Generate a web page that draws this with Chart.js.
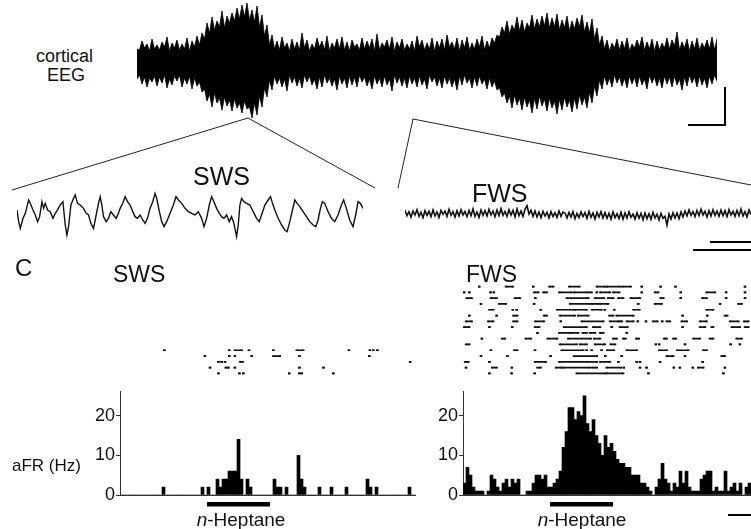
<!DOCTYPE html>
<html>
<head>
<meta charset="utf-8">
<script src="https://cdn.jsdelivr.net/npm/chart.js@4.4.1/dist/chart.umd.min.js"></script>
<style>
html, body { margin: 0; padding: 0; background: #fff; overflow: hidden; }
#fig { position: relative; width: 751px; height: 529px; overflow: hidden;
       font-family: "Liberation Sans", Arial, sans-serif; color: #111; }
#fig canvas, #fig .lbl, #fig svg { position: absolute; }
.lbl { white-space: nowrap; line-height: 1; }
</style>
</head>
<body>
<div id="fig">
  <canvas id="eeg" width="600" height="126" style="left:130px;top:0px"></canvas>
  <canvas id="swsTrace" width="380" height="80" style="left:0px;top:175px"></canvas>
  <canvas id="fwsTrace" width="360" height="80" style="left:395px;top:175px"></canvas>
  <canvas id="swsRaster" width="330" height="104" style="left:100px;top:278px"></canvas>
  <canvas id="fwsRaster" width="330" height="104" style="left:443px;top:278px"></canvas>
  <canvas id="swsHist" width="440" height="149" style="left:0px;top:380px"></canvas>
  <canvas id="fwsHist" width="440" height="149" style="left:343px;top:380px"></canvas>

  <div class="lbl" style="left:36px;top:47px;font-size:18px">cortical</div>
  <div class="lbl" style="left:47px;top:66px;font-size:18px">EEG</div>
  <div class="lbl" style="left:193px;top:164px;font-size:25px">SWS</div>
  <div class="lbl" style="left:472px;top:181px;font-size:25px">FWS</div>
  <div class="lbl" style="left:15px;top:256px;font-size:24px">C</div>
  <div class="lbl" style="left:113px;top:263px;font-size:23px">SWS</div>
  <div class="lbl" style="left:466px;top:263px;font-size:23px">FWS</div>
  <div class="lbl" style="left:12px;top:457px;font-size:17px">aFR (Hz)</div>
  <div class="lbl" style="left:241px;top:510px;font-size:19px;transform:translateX(-50%)"><i>n</i>-Heptane</div>
  <div class="lbl" style="left:582px;top:510px;font-size:19px;transform:translateX(-50%)"><i>n</i>-Heptane</div>

  <svg width="751" height="529" style="left:0;top:0;pointer-events:none">
    <g stroke="#222" stroke-width="1" fill="none">
      <line x1="248" y1="118" x2="12" y2="190"/>
      <line x1="248" y1="118" x2="375" y2="188"/>
      <line x1="413" y1="119" x2="398" y2="188"/>
      <line x1="413" y1="119" x2="751" y2="185"/>
    </g>
    <g stroke="#000" stroke-width="2" fill="none">
      <polyline points="725,87 725,125 688,125"/>
      <line x1="710" y1="242" x2="751" y2="242"/>
      <line x1="693" y1="250" x2="751" y2="250"/>
      <line x1="728" y1="515" x2="751" y2="515"/>
    </g>
  </svg>
</div>

<script>
// cortical EEG overview: spike tips of the trace above / below baseline
const eegUpper = [
  14, 22, 19, 24, 18, 21, 26, 20, 23, 19, 25, 22, 27, 30,
  40, 46, 42, 52, 47, 50, 55, 58, 60, 53, 57, 48, 38,
  28, 22, 26, 20, 24, 21, 30, 23, 19, 25, 22, 27, 20, 24, 26, 21, 23, 19, 25, 22,
  24, 29, 20, 23, 26, 21, 24, 19, 22, 27, 23, 20, 25, 22, 24, 28, 21, 25, 23, 26,
  20, 24, 27, 22, 25, 28,
  36, 42, 38, 46, 43, 40, 48, 44, 47, 50, 45, 49, 43, 47, 42, 45, 48, 41, 44, 35,
  27, 23, 20, 24, 22, 25, 19, 23, 26, 21, 24, 22, 20, 25, 23, 31, 21, 24, 22, 25,
  20, 23, 26, 24
];
const eegLower = [
  16, 21, 24, 19, 23, 20, 25, 22, 18, 24, 21, 26, 23, 29,
  38, 44, 40, 47, 43, 48, 45, 50, 46, 55, 52, 44, 34,
  27, 21, 24, 28, 20, 23, 25, 19, 22, 26, 24, 20, 23, 27, 21, 25, 22, 24, 19, 23,
  26, 21, 24, 22, 28, 20, 23, 25, 21, 24, 22, 26, 19, 23, 25, 21, 24, 27, 22, 20,
  25, 23, 21, 26, 24, 27,
  34, 40, 45, 42, 47, 44, 50, 46, 43, 48, 45, 51, 47, 44, 49, 46, 42, 45, 40, 33,
  26, 22, 24, 20, 23, 25, 21, 24, 22, 26, 20, 23, 25, 21, 24, 22, 27, 23, 20, 24,
  22, 25, 21, 18
];
// edge of the solid core of the band, between neighbouring spike tips
const eegUpperCore = [
  13, 15, 12, 14, 13, 16, 12, 15, 13, 14, 12, 16, 18,
  24, 30, 33, 36, 35, 40, 42, 44, 46, 43, 41, 36, 27,
  18, 14, 13, 15, 12, 14, 13, 15, 12, 14, 16, 13, 12, 15, 14, 13, 12, 16, 13, 14,
  15, 12, 13, 16, 14, 12, 15, 13, 14, 12, 16, 13, 14, 12, 15, 13, 16, 14, 12, 15,
  13, 14, 16, 13, 15, 20,
  26, 30, 29, 33, 32, 31, 35, 34, 36, 37, 35, 36, 33, 35, 32, 34, 36, 31, 30, 24,
  18, 14, 12, 15, 13, 14, 12, 15, 16, 13, 14, 12, 13, 15, 14, 17, 13, 15, 12, 14,
  13, 15, 14, 13
];
const eegLowerCore = [
  12, 14, 15, 13, 14, 12, 16, 13, 12, 15, 13, 15, 19,
  26, 31, 30, 35, 34, 37, 36, 40, 38, 44, 40, 33, 25,
  17, 13, 15, 16, 12, 14, 15, 12, 13, 16, 14, 12, 15, 16, 13, 15, 13, 14, 12, 14,
  16, 13, 15, 13, 16, 12, 14, 15, 13, 15, 13, 16, 12, 14, 15, 13, 15, 16, 13, 12,
  15, 14, 13, 16, 15, 18,
  25, 30, 33, 32, 35, 34, 37, 35, 33, 36, 35, 38, 36, 34, 37, 35, 32, 34, 29, 23,
  17, 13, 15, 12, 14, 15, 13, 14, 13, 16, 12, 14, 15, 13, 14, 13, 16, 14, 12, 14,
  13, 15, 13, 12
];

// SWS expanded trace (time units, voltage units)
const swsTraceT = [0,5,10,18,25,35,42,48,55,62,68,75,80,85,92,100,108,115,122,130,138,145,150,155,162,170,175,182,190,200,
  208,215,222,230,238,245,250,255,260,268,275,282,290,298,305,310,318,325,332,340,348,355,362,370,378,385,392,400,408,415,
  420,428,435,442,450,460,470,478,485,495,505,515,525,535,545,555,562,570,578,585,592,600,608,615,622,630,638,645,652,660,
  665,670,675,682,690,700,710,720,728,735,745,755,762,768,775,785,795,805,812,820,828,835,842,850,860,870,880,890,898,905,
  912,918,925,935,945,955,965,975,982,990,1000,1010,1018,1025,1032,1040];
const swsTraceV = [15,-20,-40,-10,5,45,30,15,0,-20,-5,40,20,35,15,10,-10,5,15,30,40,-30,-60,-35,30,50,60,35,30,20,
  5,0,-25,-40,0,35,55,30,-5,-20,-10,10,0,-10,5,20,35,55,40,30,10,-5,-10,0,-15,-25,-10,20,40,65,
  50,10,-20,-35,-20,5,30,55,45,35,20,10,5,0,10,-10,-35,-10,30,55,40,20,5,-5,-10,0,-20,-5,-25,-65,
  -30,30,50,40,35,30,10,-10,-20,0,30,45,55,35,15,-10,-30,-45,-50,-20,15,45,35,25,10,-5,-20,-30,-35,-15,
  20,40,35,10,-10,-20,0,30,45,20,-15,-35,0,40,35,20];

// FWS expanded trace, one sample every fwsStep time units
const fwsStep = 6;
const fwsTraceV = [
  14,-2,10,-6,12,0,16,-4,8,-8,13,-1,11,-5,15,-3,9,-7,14,2,
  12,-4,17,-1,10,-6,13,-3,16,0,11,-5,14,-2,18,-4,9,-7,15,-1,
  13,-3,17,0,12,-5,15,-2,19,-1,11,-4,16,0,14,-6,18,-2,12,-4,
  17,28,3,14,-4,12,-6,9,-8,11,-3,8,-9,10,-5,7,-7,12,-4,9,
  6,-9,8,-6,10,-11,5,-8,9,-5,7,-10,11,-7,6,-12,8,-6,10,-9,
  7,-10,5,-12,9,-8,4,-11,8,-13,6,-9,10,-7,3,-12,7,-10,5,-14,
  6,-11,4,-13,8,-9,2,-15,5,-10,-4,-30,3,-12,7,-9,6,-11,9,-6,
  12,-3,15,-1,10,-5,14,-2,17,0,11,-6,13,-3,16,-1,12,-4,15,-2,
  13,-5,16,0,11,-4,14,-2,18,-3,10,-6,15,1
];

// Raster: spike times (s) per trial row; [start, end] = run of densely packed spikes
const swsRaster = [
  [], [], [], [], [], [], [], [], [], [], [],
  [1.48, 3.64, [3.83, 4.06], 4.30, 5.11, [5.89, 6.11], 7.63, 8.33, 8.44, 8.58],
  [2.83, 3.64, 3.83, 4.39, [5.11, 5.33], 5.98, 8.31],
  [3.28, 3.39, 3.50, [4.00, 4.09], 9.67],
  [3.00, 3.53, 3.61, 3.83, 5.98, 6.78],
  [3.28, 3.98, 4.11, 5.64, 5.98, 6.06, 7.11]
];
const fwsRaster = [
  [0.54, [1.43, 1.66], 2.34, [2.88, 3.01], [3.54, 3.88], [4.46, 4.73], [4.79, 5.23], [5.31, 5.59], 5.96, 6.59, 7.08, 9.40],
  [0.04, 0.21, 0.92, 1.03, [2.37, 2.51], [2.68, 2.79], [3.21, 3.62], [3.70, 4.12], [4.18, 4.29], 4.46, [4.57, 4.90], [5.01, 5.21], 5.96, [6.40, 6.51], 7.26, [8.12, 8.40], 8.77, 9.40],
  [[0.12, 0.29], [0.93, 1.12], [1.73, 1.90], 2.41, [3.46, 4.18], [4.40, 4.70], [4.84, 5.01], [5.18, 5.34], [5.59, 5.90], [6.59, 6.68], 7.26, [7.98, 8.12], 8.77, 9.40],
  [0.60, [1.21, 1.43], 2.37, [3.57, 4.23], [4.29, 4.51], [4.57, 4.84], 5.84, [6.40, 6.62], 8.57, [9.18, 9.29]],
  [[0.88, 1.01], 1.66, 1.79, 2.59, [3.14, 3.68], [3.73, 4.12], [4.30, 4.62], 4.73, 5.04, [5.68, 5.88], [8.12, 8.34]],
  [0.21, 1.12, [1.68, 1.81], [2.70, 2.79], [3.23, 3.73], [3.84, 4.18], [4.88, 5.01], [5.12, 5.68], 7.32, 8.14, [8.73, 8.81]],
  [[0.10, 0.29], [0.84, 1.01], [1.68, 1.81], [2.41, 2.70], 3.26, [3.96, 4.68], [4.90, 5.18], [5.21, 5.30], [5.46, 5.68], 5.83, 6.10, [6.34, 6.48], 6.64, [6.79, 6.90], [7.29, 7.46], [7.90, 8.12], [8.90, 9.18], [9.37, 9.51]],
  [[0.04, 0.21], 0.88, 1.64, [2.40, 2.54], [3.37, 4.12], [4.34, 4.57], 4.96, [5.23, 5.48], 7.32, [7.90, 8.07], [8.29, 8.34], [8.96, 9.23], [9.40, 9.51]],
  [2.48, [3.21, 3.57], [3.62, 3.84], [3.99, 4.12], [4.23, 4.40], [4.57, 4.68], 5.46],
  [0.63, [1.30, 1.40], [2.09, 2.26], [2.82, 3.14], [3.51, 4.26], [4.37, 4.57], [5.01, 5.12], [5.34, 5.42], [5.77, 5.86], [6.70, 6.79], [7.01, 7.10], [7.68, 7.90], [8.23, 8.34], [9.12, 9.29]],
  [[0.10, 0.21], [3.23, 3.79], [3.90, 4.12], [4.40, 4.73], [4.92, 5.07], 6.43, 6.54, 7.40, 8.92, 9.23],
  [0.93, [1.71, 1.81], 2.40, [3.29, 4.01], 4.12, 4.29, 4.62, 4.82, [4.90, 5.03], [5.46, 5.79], [6.54, 6.79], [7.14, 7.51], [8.01, 8.12]],
  [0.60, 1.48, 2.92, [3.70, 4.46], 4.74, 5.29, [6.79, 7.01], 7.40, [8.62, 8.73]],
  [[0.07, 0.18], 0.88, [2.40, 2.76], [3.21, 4.46], [4.57, 4.90], 5.18, 5.79, 5.90, 6.57, 7.99],
  [0.10, [0.97, 1.12], 1.63, [2.48, 2.59], [3.10, 3.29], [3.34, 4.23], [4.31, 4.46], [4.79, 5.26], 5.36, 5.90, 6.12, 7.03, 7.23, 7.66, [7.84, 8.01], 8.73],
  [0.88, 1.62, 2.39, [3.79, 4.73], [4.79, 5.34], 6.18, 8.68]
];

// Histograms: aFR (Hz) in 0.1 s bins
const binWidth = 0.1;
const binCenters = Array.from({ length: 100 }, (_, i) => (i + 0.5) * binWidth);
const swsRate = [
  0,0,0,0,0,0,0,0,0,0,
  0,0,0,0,2,0,0,0,0,0,
  0,0,0,0,0,0,0,2,0,2,
  0,0,4,2,4,4,6,6,6,14,
  4,0,4,2,0,0,0,0,0,0,
  0,4,2,2,0,2,0,0,0,10,
  4,2,0,0,0,0,2,0,0,0,
  2,0,0,0,0,2,0,0,0,0,
  0,0,4,2,0,2,0,0,0,0,
  0,0,0,0,0,0,2,0,0,0
];
const fwsRate = [
  3,7,5,2,1,1,1,0,1,5,
  4,2,1,3,4,2,4,3,4,0,
  0,1,1,3,5,5,4,5,2,2,
  3,4,6,12,16,22,22,19,21,20,
  25,18,16,19,15,13,10,15,12,13,
  11,9,8,8,7,7,5,5,5,3,
  3,2,1,0,2,4,8,4,3,1,
  3,2,6,3,6,2,1,1,1,4,
  5,6,6,1,2,1,1,6,1,2,
  3,1,3,0,2,3,2,1,3,2
];
const yTicks = [0, 10, 20];
const heptaneOn = 2.9, heptaneOff = 5.0;

Chart.defaults.font.family = '"Liberation Sans", Arial, sans-serif';
Chart.defaults.color = '#111';

function baseOptions(padding, x, y) {
  return {
    responsive: false,
    animation: false,
    events: [],
    layout: { padding },
    plugins: { legend: { display: false }, tooltip: { enabled: false } },
    scales: { x, y }
  };
}

// spike tip at each sample, core edge half a sample later
function zigzag(tips, core, sign) {
  const pts = [];
  tips.forEach((v, i) => {
    pts.push({ x: i, y: sign * v });
    if (i < core.length) pts.push({ x: i + 0.5, y: sign * core[i] });
  });
  return pts;
}

// overview EEG band
new Chart(document.getElementById('eeg'), {
  type: 'line',
  data: {
    datasets: [
      { data: zigzag(eegUpper, eegUpperCore, 1), borderColor: '#000', backgroundColor: '#000',
        borderWidth: 0.8, pointRadius: 0, fill: '+1' },
      { data: zigzag(eegLower, eegLowerCore, -1), borderColor: '#000',
        borderWidth: 0.8, pointRadius: 0, fill: false }
    ]
  },
  options: baseOptions({ left: 7, right: 13, top: 0, bottom: 0 },
    { type: 'linear', display: false, min: 0, max: 116 },
    { display: false, min: -63, max: 63 })
});

// expanded traces
function traceChart(id, points, padding, xmax, width) {
  return new Chart(document.getElementById(id), {
    type: 'line',
    data: { datasets: [{ data: points, borderColor: '#111', borderWidth: width, pointRadius: 0, tension: 0 }] },
    options: baseOptions(padding,
      { type: 'linear', display: false, min: 0, max: xmax },
      { display: false, min: -105, max: 105 })
  });
}
traceChart('swsTrace', swsTraceT.map((t, i) => ({ x: t, y: swsTraceV[i] })),
  { left: 17, right: 17, top: 5, bottom: 5 }, 1040, 1.4);
traceChart('fwsTrace', fwsTraceV.map((v, i) => ({ x: i * fwsStep, y: v })),
  { left: 10, right: 2, top: 5, bottom: 5 }, 1044, 1.6);

// rasters
function rasterDatasets(rows) {
  return rows.map((items, r) => {
    const pts = [];
    items.forEach(it => {
      const [s, e] = Array.isArray(it) ? it : [it, it];
      pts.push({ x: s, y: r + 1 }, { x: e, y: r + 1 }, { x: e, y: null });
    });
    return { data: pts, showLine: true, spanGaps: false, borderColor: '#111', borderWidth: 1.7,
      borderCapStyle: 'butt', pointStyle: 'line', pointRadius: 1.2,
      pointBorderColor: '#111', pointBorderWidth: 1.7 };
  });
}
function rasterChart(id, rows) {
  return new Chart(document.getElementById(id), {
    type: 'scatter',
    data: { datasets: rasterDatasets(rows) },
    options: baseOptions({ left: 20, right: 10, top: 4.8, bottom: 4.8 },
      { type: 'linear', display: false, min: 0, max: 10 },
      { display: false, min: 0.5, max: 16.5, reverse: true })
  });
}
rasterChart('swsRaster', swsRaster);
rasterChart('fwsRaster', fwsRaster);

// histograms
const heptaneBar = {
  id: 'heptaneBar',
  afterDatasetsDraw(chart) {
    const { ctx, chartArea, scales: { x } } = chart;
    const x1 = x.getPixelForValue(heptaneOn), x2 = x.getPixelForValue(heptaneOff);
    ctx.save();
    ctx.fillStyle = '#000';
    ctx.fillRect(x1, chartArea.bottom + 7, x2 - x1, 4.5);
    ctx.restore();
  }
};
function histChart(id, rates, xmax, padRight) {
  return new Chart(document.getElementById(id), {
    type: 'bar',
    data: {
      datasets: [{
        data: rates.map((c, i) => ({ x: binCenters[i], y: c })),
        backgroundColor: '#000', borderWidth: 0, barPercentage: 1, categoryPercentage: 1
      }]
    },
    options: baseOptions({ left: 80, right: padRight, top: 8.4, bottom: 34 },
      {
        type: 'linear', min: 0, max: xmax, offset: false,
        grid: { display: false },
        border: { display: true, color: '#333', width: 1 },
        ticks: { display: false },
        afterFit: a => { a.height = 0; }
      },
      {
        min: 0, max: 26,
        grid: { drawOnChartArea: false, drawTicks: true, tickLength: 4, color: '#333' },
        border: { color: '#333', width: 1 },
        ticks: { stepSize: 10, padding: 1, color: '#111', font: { size: 18 } },
        afterBuildTicks: a => { a.ticks = a.ticks.filter(t => yTicks.includes(t.value)); },
        afterFit: a => { a.width = 40; }
      }),
    plugins: [heptaneBar]
  });
}
histChart('swsHist', swsRate, 9.85, 24.5);
histChart('fwsHist', fwsRate, 10, 20);
</script>
</body>
</html>
